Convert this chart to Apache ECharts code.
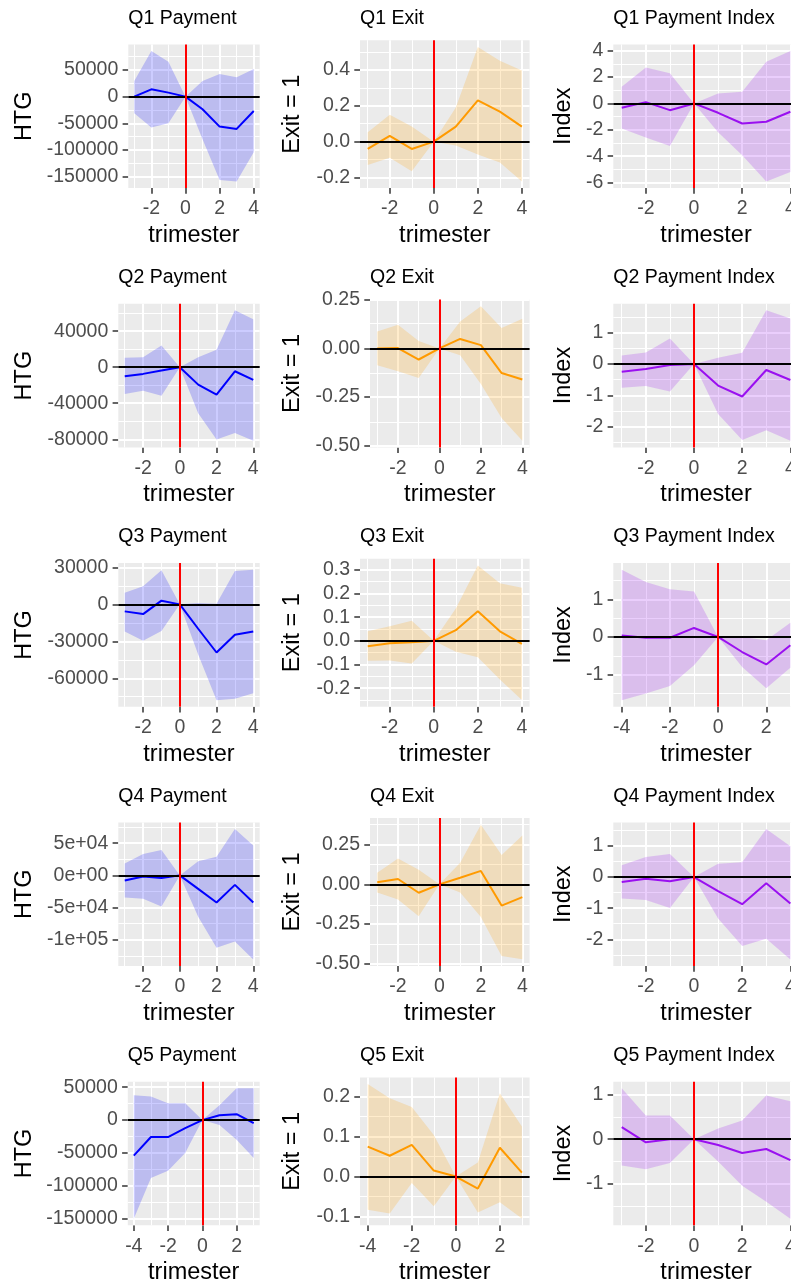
<!DOCTYPE html>
<html><head><meta charset="utf-8">
<script src="https://cdn.jsdelivr.net/npm/echarts@6/dist/echarts.min.js"></script>
<style>html,body{margin:0;padding:0;background:#fff;overflow:hidden}#c{width:791px;height:1285px}</style>
</head><body><div id="c"></div>
<script>
// ---------- data ----------
const trimesterA = [-3, -2, -1, 0, 1, 2, 3, 4];
const trimesterB = [-4, -3, -2, -1, 0, 1, 2, 3];
const xTicksA = [-2, 0, 2, 4];
const xTicksB = [-4, -2, 0, 2];

const q1PayEst = [0, 13750, 7500, 0, -23750, -56250, -60600, -26900];
const q1PayLo  = [-31250, -58000, -50000, 0, -80000, -156250, -159400, -104400];
const q1PayHi  = [29400, 85600, 65600, 0, 29400, 42500, 36250, 51900];
const q1ExitEst = [-0.041, 0.032, -0.041, 0, 0.084, 0.230, 0.168, 0.084];
const q1ExitLo  = [-0.130, -0.090, -0.165, 0, -0.022, -0.072, -0.116, -0.222];
const q1ExitHi  = [0.052, 0.150, 0.084, 0, 0.190, 0.529, 0.452, 0.398];
const q1IdxEst = [-0.33, 0.10, -0.51, 0, -0.71, -1.52, -1.39, -0.63];
const q1IdxLo  = [-1.90, -2.58, -3.22, 0, -2.18, -3.93, -5.92, -5.20];
const q1IdxHi  = [1.27, 2.73, 2.28, 0, 0.76, 0.89, 3.16, 3.97];

const q2PayEst = [-10000, -7400, -3700, 0, -19300, -30500, -4500, -14100];
const q2PayLo  = [-29800, -26000, -31600, 0, -51000, -80200, -73000, -81800];
const q2PayHi  = [10400, 11200, 24200, 0, 11200, 19300, 63200, 53200];
const q2ExitEst = [0.000, 0.002, -0.057, 0, 0.049, 0.017, -0.127, -0.160];
const q2ExitLo  = [-0.087, -0.118, -0.152, 0, -0.035, -0.184, -0.359, -0.476];
const q2ExitHi  = [0.087, 0.122, 0.038, 0, 0.139, 0.218, 0.105, 0.153];
const q2IdxEst = [-0.245, -0.16, -0.03, 0, -0.69, -1.04, -0.19, -0.51];
const q2IdxLo  = [-0.76, -0.70, -0.88, 0, -1.60, -2.43, -2.12, -2.46];
const q2IdxHi  = [0.27, 0.37, 0.82, 0, 0.20, 0.36, 1.72, 1.46];

const q3PayEst = [-5700, -7900, 3000, 0, -19800, -39100, -24700, -22000];
const q3PayLo  = [-22000, -29600, -21700, 0, -40700, -77800, -76700, -72200];
const q3PayHi  = [9500, 14700, 27700, 0, 1100, 500, 27100, 28200];
const q3ExitEst = [-0.023, -0.010, -0.006, 0, 0.045, 0.125, 0.040, -0.013];
const q3ExitLo  = [-0.084, -0.083, -0.096, 0, -0.046, -0.070, -0.163, -0.250];
const q3ExitHi  = [0.040, 0.061, 0.085, 0, 0.136, 0.318, 0.243, 0.224];
const q3IdxEst = [0.04, -0.02, -0.02, 0.24, 0, -0.40, -0.73, -0.22];
const q3IdxLo  = [-1.68, -1.50, -1.30, -0.75, 0, -0.80, -1.36, -0.82];
const q3IdxHi  = [1.79, 1.46, 1.27, 1.21, 0, 0.00, -0.09, 0.38];

const q4PayEst = [-7900, -1600, -4200, 0, -21000, -42100, -14700, -42100];
const q4PayLo  = [-34200, -36300, -48200, 0, -64100, -112500, -102500, -130500];
const q4PayHi  = [18400, 33100, 39500, 0, 22100, 28900, 72100, 46300];
const q4ExitEst = [0.013, 0.034, -0.053, 0, 0.042, 0.085, -0.134, -0.081];
const q4ExitLo  = [-0.052, -0.096, -0.202, 0, -0.052, -0.206, -0.452, -0.473];
const q4ExitHi  = [0.074, 0.164, 0.093, 0, 0.136, 0.376, 0.185, 0.308];
const q4IdxEst = [-0.16, -0.05, -0.13, 0, -0.45, -0.87, -0.20, -0.85];
const q4IdxLo  = [-0.69, -0.74, -0.99, 0, -1.33, -2.22, -1.98, -2.65];
const q4IdxHi  = [0.38, 0.65, 0.74, 0, 0.43, 0.48, 1.55, 0.99];

const q5PayEst = [-54000, -25700, -25700, -12100, 0, 7500, 9000, -4500];
const q5PayLo  = [-150000, -88000, -77000, -50000, 0, -7600, -30000, -57500];
const q5PayHi  = [37800, 36000, 25700, 25700, 0, 22700, 48500, 48500];
const q5ExitEst = [0.075, 0.052, 0.079, 0.015, 0, -0.030, 0.072, 0.010];
const q5ExitLo  = [-0.083, -0.092, -0.016, -0.074, 0, -0.090, -0.064, -0.105];
const q5ExitHi  = [0.231, 0.196, 0.174, 0.104, 0, 0.035, 0.208, 0.125];
const q5IdxEst = [0.27, -0.07, 0.00, 0, -0.13, -0.31, -0.22, -0.47];
const q5IdxLo  = [-0.59, -0.67, -0.53, 0, -0.50, -1.04, -1.40, -1.78];
const q5IdxHi  = [1.14, 0.53, 0.53, 0, 0.24, 0.42, 0.98, 0.85];

// y tick values and labels
const q1PayTicks = [-150000, -100000, -50000, 0, 50000];
const q1PayTickLabels = ['-150000', '-100000', '-50000', '0', '50000'];
const q1ExitTicks = [-0.2, 0, 0.2, 0.4];
const q1ExitTickLabels = ['-0.2', '0.0', '0.2', '0.4'];
const q1IdxTicks = [-6, -4, -2, 0, 2, 4];
const q1IdxTickLabels = ['-6', '-4', '-2', '0', '2', '4'];
const q2PayTicks = [-80000, -40000, 0, 40000];
const q2PayTickLabels = ['-80000', '-40000', '0', '40000'];
const q2ExitTicks = [-0.5, -0.25, 0, 0.25];
const q2ExitTickLabels = ['-0.50', '-0.25', '0.00', '0.25'];
const q2IdxTicks = [-2, -1, 0, 1];
const q2IdxTickLabels = ['-2', '-1', '0', '1'];
const q3PayTicks = [-60000, -30000, 0, 30000];
const q3PayTickLabels = ['-60000', '-30000', '0', '30000'];
const q3ExitTicks = [-0.2, -0.1, 0, 0.1, 0.2, 0.3];
const q3ExitTickLabels = ['-0.2', '-0.1', '0.0', '0.1', '0.2', '0.3'];
const q3IdxTicks = [-1, 0, 1];
const q3IdxTickLabels = ['-1', '0', '1'];
const q4PayTicks = [-100000, -50000, 0, 50000];
const q4PayTickLabels = ['-1e+05', '-5e+04', '0e+00', '5e+04'];
const q4ExitTicks = [-0.5, -0.25, 0, 0.25];
const q4ExitTickLabels = ['-0.50', '-0.25', '0.00', '0.25'];
const q4IdxTicks = [-2, -1, 0, 1];
const q4IdxTickLabels = ['-2', '-1', '0', '1'];
const q5PayTicks = [-150000, -100000, -50000, 0, 50000];
const q5PayTickLabels = ['-150000', '-100000', '-50000', '0', '50000'];
const q5ExitTicks = [-0.1, 0, 0.1, 0.2];
const q5ExitTickLabels = ['-0.1', '0.0', '0.1', '0.2'];
const q5IdxTicks = [-1, 0, 1];
const q5IdxTickLabels = ['-1', '0', '1'];

const panels = [
  {title:'Q1 Payment', x:trimesterA, xt:xTicksA, est:q1PayEst, lo:q1PayLo, hi:q1PayHi, yt:q1PayTicks, yl:q1PayTickLabels, kind:'pay'},
  {title:'Q1 Exit', x:trimesterA, xt:xTicksA, est:q1ExitEst, lo:q1ExitLo, hi:q1ExitHi, yt:q1ExitTicks, yl:q1ExitTickLabels, kind:'exit'},
  {title:'Q1 Payment Index', x:trimesterA, xt:xTicksA, est:q1IdxEst, lo:q1IdxLo, hi:q1IdxHi, yt:q1IdxTicks, yl:q1IdxTickLabels, kind:'idx'},
  {title:'Q2 Payment', x:trimesterA, xt:xTicksA, est:q2PayEst, lo:q2PayLo, hi:q2PayHi, yt:q2PayTicks, yl:q2PayTickLabels, kind:'pay'},
  {title:'Q2 Exit', x:trimesterA, xt:xTicksA, est:q2ExitEst, lo:q2ExitLo, hi:q2ExitHi, yt:q2ExitTicks, yl:q2ExitTickLabels, kind:'exit'},
  {title:'Q2 Payment Index', x:trimesterA, xt:xTicksA, est:q2IdxEst, lo:q2IdxLo, hi:q2IdxHi, yt:q2IdxTicks, yl:q2IdxTickLabels, kind:'idx'},
  {title:'Q3 Payment', x:trimesterA, xt:xTicksA, est:q3PayEst, lo:q3PayLo, hi:q3PayHi, yt:q3PayTicks, yl:q3PayTickLabels, kind:'pay'},
  {title:'Q3 Exit', x:trimesterA, xt:xTicksA, est:q3ExitEst, lo:q3ExitLo, hi:q3ExitHi, yt:q3ExitTicks, yl:q3ExitTickLabels, kind:'exit'},
  {title:'Q3 Payment Index', x:trimesterB, xt:xTicksB, est:q3IdxEst, lo:q3IdxLo, hi:q3IdxHi, yt:q3IdxTicks, yl:q3IdxTickLabels, kind:'idx'},
  {title:'Q4 Payment', x:trimesterA, xt:xTicksA, est:q4PayEst, lo:q4PayLo, hi:q4PayHi, yt:q4PayTicks, yl:q4PayTickLabels, kind:'pay'},
  {title:'Q4 Exit', x:trimesterA, xt:xTicksA, est:q4ExitEst, lo:q4ExitLo, hi:q4ExitHi, yt:q4ExitTicks, yl:q4ExitTickLabels, kind:'exit'},
  {title:'Q4 Payment Index', x:trimesterA, xt:xTicksA, est:q4IdxEst, lo:q4IdxLo, hi:q4IdxHi, yt:q4IdxTicks, yl:q4IdxTickLabels, kind:'idx'},
  {title:'Q5 Payment', x:trimesterB, xt:xTicksB, est:q5PayEst, lo:q5PayLo, hi:q5PayHi, yt:q5PayTicks, yl:q5PayTickLabels, kind:'pay'},
  {title:'Q5 Exit', x:trimesterB, xt:xTicksB, est:q5ExitEst, lo:q5ExitLo, hi:q5ExitHi, yt:q5ExitTicks, yl:q5ExitTickLabels, kind:'exit'},
  {title:'Q5 Payment Index', x:trimesterA, xt:xTicksA, est:q5IdxEst, lo:q5IdxLo, hi:q5IdxHi, yt:q5IdxTicks, yl:q5IdxTickLabels, kind:'idx'}
];

// ---------- layout / style ----------
const FONT = "'Liberation Sans', Arial, Helvetica, sans-serif";
const ROW_PITCH = 259.3;
const PANEL_LEFT = [[128.3, 118.3, 118.3, 118.3, 127.8], [360, 370, 360, 370, 360], [613.3, 613.3, 613.3, 613.3, 613.3]];
const PANEL_RIGHT = [259.7, 529.6, 798.8];
const YNAME_X = [24.3, 292.7, 563.6];
const KIND = {
  pay:  {name:'HTG', line:'#0000FF', fill:'rgba(0,0,255,0.2)', top:44.5},
  exit: {name:'Exit = 1', line:'#FF9A00', fill:'rgba(255,160,0,0.2)', top:40.2},
  idx:  {name:'Index', line:'#9A10F0', fill:'rgba(160,32,240,0.22)', top:44.5}
};
const PANEL_BOTTOM = 188.1;
const TICK_FS = 19.5, TITLE_FS = 19.5, AXTITLE_FS = 23.5;

function expandRange(a, b) { const r = b - a; return [a - 0.05 * r, b + 0.05 * r]; }
function minors(ticks, lo, hi) {
  const s = ticks[1] - ticks[0];
  const out = [ticks[0] - s / 2];
  for (let i = 0; i < ticks.length - 1; i++) out.push((ticks[i] + ticks[i + 1]) / 2);
  out.push(ticks[ticks.length - 1] + s / 2);
  return out.filter(v => v > lo && v < hi);
}

const grids = [], xAxes = [], yAxes = [], series = [], titles = [];
panels.forEach((p, gi) => {
  const row = Math.floor(gi / 3), col = gi % 3;
  const k = KIND[p.kind];
  const rowTop = row * ROW_PITCH;
  const left = PANEL_LEFT[col][row];
  const top = rowTop + k.top;
  const bottom = rowTop + PANEL_BOTTOM;
  const [xmin, xmax] = expandRange(Math.min(...p.x), Math.max(...p.x));
  const [ymin, ymax] = expandRange(Math.min(0, ...p.lo), Math.max(0, ...p.hi));

  grids.push({left: left, top: top, width: PANEL_RIGHT[col] - left, height: bottom - top,
    show: true, backgroundColor: '#EBEBEB', borderWidth: 0, containLabel: false, outerBoundsMode: 'none'});

  titles.push({text: p.title, left: left, top: rowTop + 18.5 - 10, padding: 0,
    textStyle: {fontFamily: FONT, fontSize: TITLE_FS, fontWeight: 'normal', color: '#000', lineHeight: 20}});

  xAxes.push({gridIndex: gi, type: 'value', min: xmin, max: xmax,
    axisLine: {show: false, onZero: false},
    axisTick: {show: true, customValues: p.xt, length: 5.7, lineStyle: {color: '#333333', width: 1.5}},
    axisLabel: {customValues: p.xt, margin: 11.5, color: '#4D4D4D', fontSize: TICK_FS, fontFamily: FONT, lineHeight: 19},
    splitLine: {show: false},
    name: 'trimester', nameLocation: 'middle', nameGap: 47.5, nameMoveOverlap: false,
    nameTextStyle: {fontFamily: FONT, fontSize: AXTITLE_FS, color: '#000', verticalAlign: 'middle', lineHeight: 24}});

  yAxes.push({gridIndex: gi, type: 'value', min: ymin, max: ymax,
    axisLine: {show: false, onZero: false},
    axisTick: {show: true, customValues: p.yt, length: 5.7, lineStyle: {color: '#333333', width: 1.5}},
    axisLabel: {customValues: p.yt, margin: 10, color: '#4D4D4D', fontSize: TICK_FS, fontFamily: FONT,
      formatter: function (v) { const i = p.yt.findIndex(t => Math.abs(t - v) < 1e-9); return i >= 0 ? p.yl[i] : ''; }},
    splitLine: {show: false},
    name: k.name, nameLocation: 'middle', nameGap: left - YNAME_X[col], nameRotate: 90, nameMoveOverlap: false,
    nameTextStyle: {fontFamily: FONT, fontSize: AXTITLE_FS, color: '#000', verticalAlign: 'middle', align: 'center', lineHeight: 24}});

  // grid lines (major + minor), drawn under the ribbon
  const gl = [];
  minors(p.xt, xmin, xmax).forEach(v => gl.push({xAxis: v, lineStyle: {color: '#FFFFFF', width: 1, type: 'solid'}}));
  minors(p.yt, ymin, ymax).forEach(v => gl.push({yAxis: v, lineStyle: {color: '#FFFFFF', width: 1, type: 'solid'}}));
  p.xt.filter(v => v > xmin && v < xmax).forEach(v => gl.push({xAxis: v, lineStyle: {color: '#FFFFFF', width: 2, type: 'solid'}}));
  p.yt.forEach(v => gl.push({yAxis: v, lineStyle: {color: '#FFFFFF', width: 2, type: 'solid'}}));
  series.push({type: 'line', xAxisIndex: gi, yAxisIndex: gi, data: [], z: 1, silent: true, symbol: 'none',
    markLine: {silent: true, z: 1, symbol: ['none', 'none'], label: {show: false}, animation: false, data: gl}});

  // confidence ribbon
  series.push({type: 'custom', xAxisIndex: gi, yAxisIndex: gi, z: 2, silent: true,
    data: [[p.x[0], p.est[0]]],
    renderItem: function (params, api) {
      const pts = [];
      for (let i = 0; i < p.x.length; i++) pts.push(api.coord([p.x[i], p.hi[i]]));
      for (let i = p.x.length - 1; i >= 0; i--) pts.push(api.coord([p.x[i], p.lo[i]]));
      return {type: 'polygon', shape: {points: pts}, style: {fill: k.fill, stroke: null}};
    }});

  // estimate line + reference lines
  series.push({type: 'line', xAxisIndex: gi, yAxisIndex: gi, z: 3, silent: true, symbol: 'none',
    data: p.x.map((v, i) => [v, p.est[i]]),
    lineStyle: {color: k.line, width: 2}, itemStyle: {color: k.line},
    markLine: {silent: true, z: 5, symbol: ['none', 'none'], label: {show: false}, animation: false,
      data: [{yAxis: 0, lineStyle: {color: '#000000', width: 2, type: 'solid'}},
             {xAxis: 0, lineStyle: {color: '#FF0000', width: 2, type: 'solid'}}]}});
});

const chart = echarts.init(document.getElementById('c'), null, {renderer: 'canvas'});
chart.setOption({animation: false, backgroundColor: '#FFFFFF', title: titles, grid: grids, xAxis: xAxes, yAxis: yAxes, series: series});
</script>
</body></html>
